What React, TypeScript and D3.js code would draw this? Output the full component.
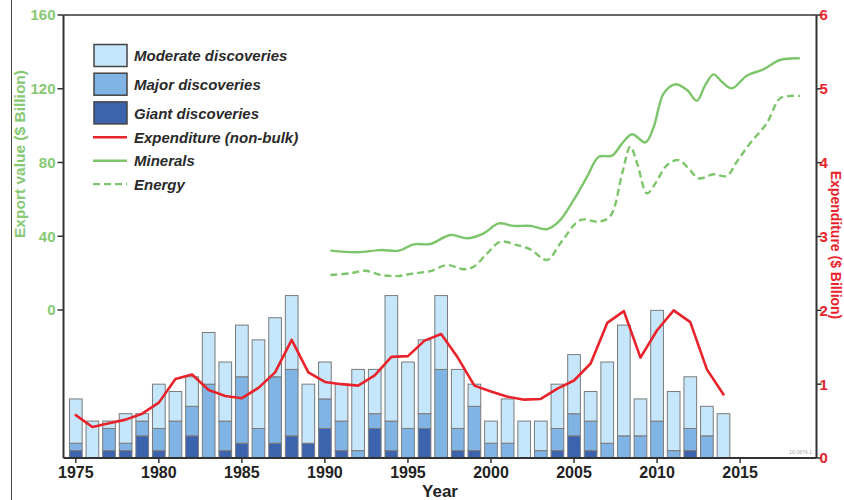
import React from 'react';
import * as d3 from 'd3';

const years = [1975,1976,1977,1978,1979,1980,1981,1982,1983,1984,1985,1986,1987,1988,1989,1990,1991,1992,1993,1994,1995,1996,1997,1998,1999,2000,2001,2002,2003,2004,2005,2006,2007,2008,2009,2010,2011,2012,2013,2014];
const giant =    [1,0,1,1,3,1,0,3,0,1,2,0,2,3,2,4,1,0,4,1,0,4,0,1,1,0,0,0,0,1,3,1,0,0,0,0,0,1,0,0];
const major =    [1,0,3,1,2,3,5,4,10,4,9,4,9,9,0,4,4,1,2,4,4,2,12,3,6,2,2,0,1,3,3,4,2,3,3,5,1,3,3,0];
const moderate = [6,5,1,4,1,6,4,4,7,8,7,12,8,10,8,5,5,11,6,17,9,10,10,8,3,3,6,5,4,6,8,4,11,15,5,15,8,7,4,6];
const expenditure = [0.58,0.42,0.47,0.52,0.6,0.75,1.07,1.13,0.92,0.84,0.81,0.95,1.16,1.6,1.16,1.03,1.0,0.98,1.12,1.37,1.38,1.59,1.68,1.36,0.98,0.9,0.83,0.79,0.8,0.94,1.05,1.28,1.83,1.99,1.36,1.73,2.0,1.84,1.2,0.86];

const mineralsYear = [1990.33,1991.94,1993.35,1994.45,1995.35,1996.35,1997.56,1998.56,1999.56,2000.47,2001.37,2002.37,2003.38,2004.08,2004.98,2005.79,2006.49,2007.29,2007.9,2008.5,2009.3,2009.8,2010.4,2011.1,2011.8,2012.4,2012.9,2013.4,2013.9,2014.5,2015.4,2016.4,2017.4,2018.6];
const mineralsValue = [32.2,31.3,32.5,32.2,35.6,35.8,40.7,38.9,41.6,47.0,45.6,45.6,43.9,47.9,59.7,72.3,83.1,83.7,90.4,95.3,90.9,99.4,117.5,122.4,119.3,113.5,122.0,127.8,123.8,120.2,127.1,130.5,135.6,136.5];
const energyYear = [1990.33,1991.54,1992.44,1993.35,1994.35,1995.35,1996.35,1997.36,1998.36,1998.96,1999.77,2000.57,2001.57,2002.37,2003.38,2004.18,2005.39,2006.49,2007.19,2007.9,2008.39,2008.8,2009.4,2009.9,2010.6,2011.3,2011.9,2012.5,2013.4,2014.2,2014.8,2015.6,2016.6,2017.4,2018.0,2018.6];
const energyValue = [19.0,19.9,21.3,19.0,18.4,19.9,21.1,24.4,22.1,23.5,30.7,37.0,35.2,32.9,27.1,36.2,48.8,47.9,51.0,74.1,88.6,79.5,63.3,68.7,78.6,81.3,76.8,71.4,73.6,72.7,80.4,90.4,101.2,114.8,116.1,116.1];

const leftTicks = [0, 40, 80, 120, 160];
const rightTicks = [0, 1, 2, 3, 4, 5, 6];
const yearTicks = [1975, 1980, 1985, 1990, 1995, 2000, 2005, 2010, 2015];
const legendBoxes = ['Moderate discoveries', 'Major discoveries', 'Giant discoveries'];
const legendLines = ['Expenditure (non-bulk)', 'Minerals', 'Energy'];

const C_MOD = '#c6e7fb';
const C_MAJ = '#7fb4e4';
const C_GIA = '#3b63ae';
const C_RED = '#e8232b';
const C_GREEN = '#7cc56a';
const C_GREEN_TXT = '#86c874';
const AXIS = '#333';
const NARROW = '"Liberation Sans Narrow", "Liberation Sans", Arial, sans-serif';
const SANS = '"Liberation Sans", Arial, sans-serif';

export default function App() {
  const W = 844, H = 500;
  const left = 63.5, right = 816.5, top = 15, bottom = 458;
  const x = d3.scaleLinear().domain([1974.26, 2019.6]).range([left, right]);
  const yL = d3.scaleLinear().domain([0, 160]).range([310, top]);
  const yR = d3.scaleLinear().domain([0, 6]).range([bottom, top]);
  const yC = d3.scaleLinear().domain([0, 60]).range([bottom, top]);
  const bw = (x(1976) - x(1975)) * 0.765;

  const expLine = d3.line<number>()
    .x((_, i) => x(years[i]))
    .y((d) => yR(d))
    .curve(d3.curveLinear);
  const minLine = d3.line<number>()
    .x((_, i) => x(mineralsYear[i]))
    .y((d) => yL(d))
    .curve(d3.curveCatmullRom.alpha(0.5));
  const enLine = d3.line<number>()
    .x((_, i) => x(energyYear[i]))
    .y((d) => yL(d))
    .curve(d3.curveCatmullRom.alpha(0.5));

  const segs: { y: number; x0: number; y0: number; y1: number; c: string; k: string }[] = [];
  years.forEach((yr, i) => {
    const g = giant[i], m = major[i], md = moderate[i];
    const parts = [
      { v0: 0, v1: g, c: C_GIA },
      { v0: g, v1: g + m, c: C_MAJ },
      { v0: g + m, v1: g + m + md, c: C_MOD },
    ];
    parts.forEach((p, j) => {
      if (p.v1 > p.v0) segs.push({ y: yr, x0: x(yr) - bw / 2, y0: yC(p.v1), y1: yC(p.v0), c: p.c, k: `${yr}-${j}` });
    });
  });

  const legendColors = [C_MOD, C_MAJ, C_GIA];

  return (
    <div style={{ position: 'fixed', left: 0, top: 0, width: W, height: H, background: '#fff' }}>
      <svg width={W} height={H} style={{ display: 'block' }}>
        <rect x={0} y={0} width={W} height={H} fill="#fff" />
        <line x1={11.5} x2={11.5} y1={0} y2={H} stroke="#444" strokeWidth={1} />

        {/* bars */}
        <g>
          {segs.map((s) => (
            <rect key={s.k} x={s.x0} y={s.y0} width={bw} height={s.y1 - s.y0} fill={s.c} stroke="#7a7a7a" strokeWidth={1} />
          ))}
        </g>

        {/* expenditure */}
        <path d={expLine(expenditure) || ''} fill="none" stroke={C_RED} strokeWidth={2.6} strokeLinejoin="round" strokeLinecap="round" />

        {/* minerals & energy */}
        <path d={minLine(mineralsValue) || ''} fill="none" stroke={C_GREEN} strokeWidth={2.4} />
        <path d={enLine(energyValue) || ''} fill="none" stroke={C_GREEN} strokeWidth={2.4} strokeDasharray="7,4" />

        {/* frame / axes */}
        <line x1={left} x2={right} y1={top} y2={top} stroke={AXIS} strokeWidth={1.6} />
        <line x1={left} x2={right} y1={bottom} y2={bottom} stroke={AXIS} strokeWidth={2} />
        <line x1={left} x2={left} y1={top} y2={bottom} stroke={AXIS} strokeWidth={2} />
        <line x1={right} x2={right} y1={top} y2={bottom} stroke={AXIS} strokeWidth={2} />

        {/* left axis */}
        {leftTicks.map((t) => (
          <g key={`l${t}`}>
            <line x1={left - 6} x2={left} y1={yL(t)} y2={yL(t)} stroke={AXIS} strokeWidth={1.5} />
            <text x={left - 8} y={yL(t)} dy="0.36em" textAnchor="end" fill={C_GREEN_TXT} fontFamily={NARROW} fontWeight="bold" fontSize={15}>{t}</text>
          </g>
        ))}
        <text transform={`translate(25,154) rotate(-90)`} textAnchor="middle" fill={C_GREEN_TXT} fontFamily={NARROW} fontWeight="bold" fontSize={15.5}>Export value ($ Billion)</text>

        {/* right axis */}
        {rightTicks.map((t) => (
          <g key={`r${t}`}>
            <line x1={right} x2={right + 5} y1={yR(t)} y2={yR(t)} stroke={AXIS} strokeWidth={1.5} />
            <text x={right + 3} y={yR(t)} dy="0.36em" textAnchor="start" fill={C_RED} fontFamily={NARROW} fontWeight="bold" fontSize={15}>{t}</text>
          </g>
        ))}
        <text transform={`translate(831,245) rotate(90)`} textAnchor="middle" fill={C_RED} fontFamily={SANS} fontWeight="bold" fontSize={14}>Expenditure ($ Billion)</text>

        {/* bottom axis */}
        {yearTicks.map((t) => (
          <g key={`b${t}`}>
            <line x1={x(t)} x2={x(t)} y1={bottom} y2={bottom + 5} stroke={AXIS} strokeWidth={1.5} />
            <text x={x(t)} y={478} textAnchor="middle" fill="#222" fontFamily={NARROW} fontWeight="bold" fontSize={16}>{t}</text>
          </g>
        ))}
        <text x={440} y={497} textAnchor="middle" fill="#222" fontFamily={SANS} fontWeight="bold" fontSize={17}>Year</text>

        {/* legend */}
        {legendBoxes.map((l, i) => (
          <g key={l}>
            <rect x={94} y={44.5 + i * 28.7} width={33} height={22} fill={legendColors[i]} stroke="#444" strokeWidth={1.5} />
            <text x={134} y={55.7 + i * 28.7} dy="0.36em" fill="#2a2a2a" fontFamily={SANS} fontWeight="bold" fontStyle="italic" fontSize={15}>{l}</text>
          </g>
        ))}
        {legendLines.map((l, i) => (
          <g key={l}>
            <line x1={93} x2={127} y1={137.3 + i * 23.4} y2={137.3 + i * 23.4} stroke={i === 0 ? C_RED : C_GREEN} strokeWidth={2.4} strokeDasharray={i === 2 ? '7,4' : undefined} />
            <text x={134} y={137.3 + i * 23.4} dy="0.36em" fill="#2a2a2a" fontFamily={SANS} fontWeight="bold" fontStyle="italic" fontSize={15}>{l}</text>
          </g>
        ))}

        <text x={812} y={454} textAnchor="end" fill="#aaa" fontFamily={SANS} fontSize={5}>16-0874-1</text>
      </svg>
    </div>
  );
}
